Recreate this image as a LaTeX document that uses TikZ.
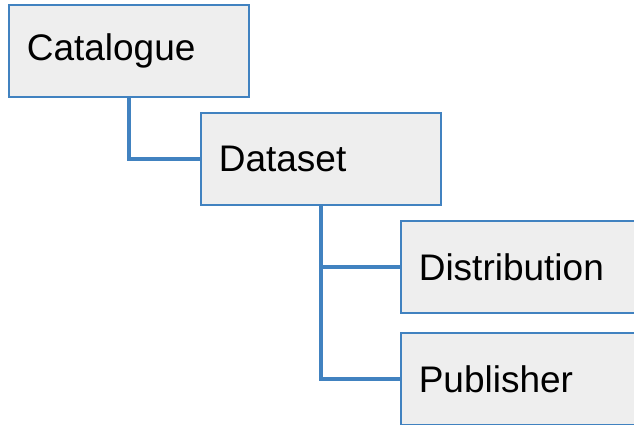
\documentclass[tikz,border=0pt]{standalone}
\usepackage{fontspec}
\setmainfont{Liberation Sans}
\definecolor{edgeblue}{RGB}{65,130,192}
\definecolor{boxfill}{RGB}{238,238,238}
\begin{document}
\begin{tikzpicture}[x=1pt,y=1pt,
  box/.style={draw=edgeblue, line width=1.6pt, fill=boxfill, rectangle,
    anchor=north west, minimum width=240pt, minimum height=92pt,
    text width=204pt, inner xsep=18pt, inner ysep=0pt, align=left,
    font=\fontsize{37}{43}\selectfont},
  link/.style={draw=edgeblue, line width=3.4pt}]
\useasboundingbox (0,0) rectangle (634,-424);
\clip (0,0) rectangle (634,-424);
\node[box] (cat) at (8,-4) {Catalogue};
\node[box] (ds) at (200,-112) {Dataset};
\node[box] (dist) at (400,-220) {Distribution};
\node[box] (pub) at (400,-332) {Publisher};
\draw[link] (cat.south) |- (ds.west);
\draw[link] (ds.south) |- (dist.west);
\draw[link] (ds.south) |- (pub.west);
\end{tikzpicture}
\end{document}
